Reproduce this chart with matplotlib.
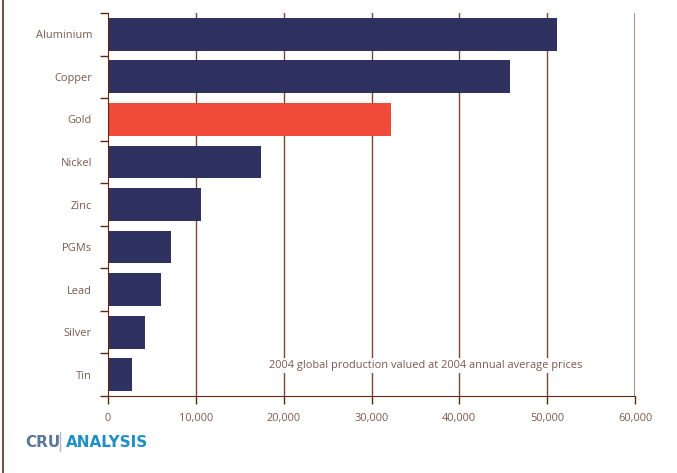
import matplotlib.pyplot as plt
import numpy as np

# Data (US$ million)
metals = ['Aluminium', 'Copper', 'Gold', 'Nickel', 'Zinc', 'PGMs', 'Lead', 'Silver', 'Tin']
values = [51100, 45800, 32200, 17400, 10600, 7200, 6000, 4200, 2700]
highlight = 'Gold'
x_ticks = [0, 10000, 20000, 30000, 40000, 50000, 60000]
note = '2004 global production valued at 2004 annual average prices'

NAVY = '#2f3260'
RED = '#f04b3a'
BROWN = '#5c2a14'
GRID = '#7a4632'
LABEL = '#7a5a50'

plt.rcParams['font.family'] = ['Open Sans', 'DejaVu Sans']

fig = plt.figure(figsize=(6.77, 4.73), dpi=100)
ax = fig.add_axes([108 / 677, 1 - 396 / 473, 527 / 677, 383 / 473])

y_pos = np.arange(len(metals))
colors = [RED if m == highlight else NAVY for m in metals]
ax.barh(y_pos, values, height=0.77, color=colors, zorder=3)

ax.set_ylim(len(metals) - 0.5, -0.5)
ax.set_xlim(0, 60000)

# vertical gridlines
for xv in x_ticks[1:-1]:
    ax.axvline(xv, color=GRID, linewidth=1.0, zorder=1)
ax.axvline(60000, color='#a88474', linewidth=2.0, zorder=1)

ax.set_xticks(x_ticks)
ax.set_xticklabels([f'{v:,}' for v in x_ticks])
ax.tick_params(axis='x', length=6, width=1, color=BROWN, labelsize=7.9,
               labelcolor=LABEL, pad=6)

# category labels centred on bars, ticks at boundaries
ax.set_yticks(y_pos)
ax.set_yticklabels(metals)
ax.tick_params(axis='y', which='major', length=0, labelsize=7.9,
               labelcolor=LABEL, pad=11.5)
ax.set_yticks(np.arange(-0.5, len(metals), 1.0), minor=True)
ax.tick_params(axis='y', which='minor', length=6, width=1, color=BROWN)

for side in ['top', 'right']:
    ax.spines[side].set_visible(False)
ax.spines['left'].set_color(BROWN)
ax.spines['bottom'].set_color(BROWN)
ax.spines['left'].set_zorder(4)

ax.text(18300, 7.78, note, fontsize=7.9, color=LABEL, va='center', ha='left',
        bbox=dict(facecolor='white', edgecolor='none', pad=1.5), zorder=5)

# frame line on the left edge of the figure
fig.add_artist(plt.Line2D([3 / 677, 3 / 677], [0, 1], color=BROWN, linewidth=1.2))

# logo
logo_y = 1 - 442 / 473
fig.text(25 / 677, logo_y, 'CRU', fontsize=11, fontweight='bold',
         color='#5b7896', family='DejaVu Sans', va='center', ha='left')
fig.add_artist(plt.Line2D([60 / 677, 60 / 677], [1 - 451 / 473, 1 - 432 / 473],
                          color='#a9bccb', linewidth=1.0))
fig.text(66 / 677, logo_y, 'ANALYSIS', fontsize=11, fontweight='bold',
         color='#1f8fc4', family='DejaVu Sans', va='center', ha='left')

fig.savefig('out.png', dpi=100, facecolor='white')
